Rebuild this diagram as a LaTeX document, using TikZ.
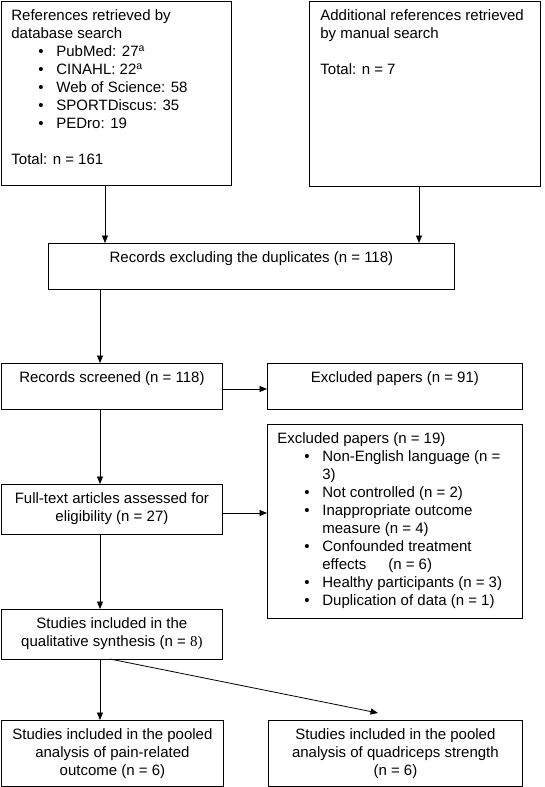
\documentclass[tikz,border=0pt]{standalone}
\usepackage{fontspec}
\setmainfont{Liberation Sans}
\newfontfamily\serifx{Liberation Serif}
\usetikzlibrary{arrows.meta}
\newcommand{\fs}{\fontsize{15}{18}\selectfont}
\newcommand{\bt}[4]{\parbox[c][#2pt][t]{#1pt}{#3\rule{0pt}{19pt}#4}}
\newcommand{\li}[1]{\\\hspace*{37pt}\makebox[18pt][l]{\textbullet}#1}
\newcommand{\lc}[1]{\\\hspace*{55pt}#1}
\begin{document}
\begin{tikzpicture}[x=1pt,y=-1pt,
  bx/.style={draw, line width=0.8pt, anchor=north west, inner sep=0pt, font=\fs},
  arr/.style={line width=0.8pt, -{Triangle[length=7.5pt,width=6pt]}}]
\useasboundingbox (0,0) rectangle (544,787);
\node[bx] (A) at (1,1) {\bt{230}{184}{\raggedright}{\hspace*{10pt}References retrieved by\\\hspace*{10pt}database search%
\li{PubMed: 27\textsuperscript{a}}\li{CINAHL: 22\textsuperscript{a}}\li{Web of Science: 58}\li{SPORTDiscus: 35}\li{PEDro: 19}\\[18pt]\hspace*{10pt}Total: n = 161}};
\node[bx] (B) at (309,1) {\bt{231}{185}{\raggedright}{\hspace*{11pt}Additional references retrieved\\\hspace*{11pt}by manual search\\[18pt]\hspace*{11pt}Total: n = 7}};
\node[bx] (C) at (48,243) {\bt{406}{46}{\centering}{Records excluding the duplicates (n = 118)}};
\node[bx] (D) at (1,363) {\bt{221}{46}{\centering}{Records screened (n = 118)}};
\node[bx] (E) at (267,363) {\bt{255}{46}{\centering}{Excluded papers (n = 91)}};
\node[bx] (F) at (267,424) {\bt{255}{194}{\raggedright}{\hspace*{10pt}Excluded papers (n = 19)%
\li{Non-English language (n =}\lc{3)}\li{Not controlled (n = 2)}\li{Inappropriate outcome}\lc{measure (n = 4)}%
\li{Confounded treatment}\lc{effects\hspace{22pt}(n = 6)}\li{Healthy participants (n = 3)}\li{Duplication of data (n = 1)}}};
\node[bx] (G) at (1,484) {\bt{221}{50}{\centering}{Full-text articles assessed for\\eligibility (n = 27)}};
\node[bx] (H) at (1,609) {\bt{221}{50}{\centering}{Studies included in the\\qualitative synthesis (n = {\serifx 8)}}};
\node[bx] (I) at (1,720) {\bt{222}{66}{\centering}{Studies included in the pooled\\analysis of pain-related\\outcome (n = 6)}};
\node[bx] (J) at (268,720) {\bt{254}{66}{\centering}{Studies included in the pooled\\analysis of quadriceps strength\\(n = 6)}};
\coordinate (xa) at (105,0);
\coordinate (xb) at (419,0);
\coordinate (xc) at (100,0);
\coordinate (yd) at (0,389);
\coordinate (yg) at (0,513);
\coordinate (hs) at (110,659);
\coordinate (jt) at (378,713);
\draw[arr] (A.south -| xa) -- (C.north -| xa);
\draw[arr] (B.south -| xb) -- (C.north -| xb);
\draw[arr] (C.south -| xc) -- (D.north -| xc);
\draw[arr] (D.east |- yd) -- (E.west |- yd);
\draw[arr] (D.south -| xc) -- (G.north -| xc);
\draw[arr] (G.east |- yg) -- (F.west |- yg);
\draw[arr] (G.south -| xc) -- (H.north -| xc);
\draw[arr] (H.south -| xc) -- (I.north -| xc);
\draw[arr] (hs) -- (jt);
\end{tikzpicture}
\end{document}
